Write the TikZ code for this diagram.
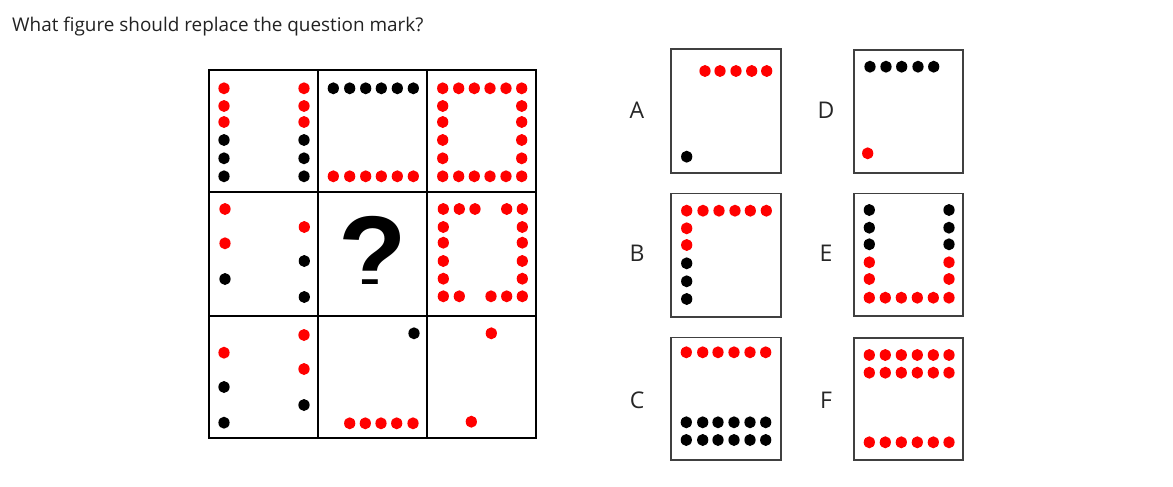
\documentclass[tikz,border=0pt]{standalone}
\usepackage{fontspec}
\setmainfont{Open Sans}
\newfontfamily\qfont{Liberation Sans}
\definecolor{dotred}{HTML}{FF0000}
\definecolor{txt}{HTML}{222222}
\begin{document}
\begin{tikzpicture}[x=1pt,y=-1pt,
  rd/.style={fill=dotred,x radius=5.6pt,y radius=6pt},
  bk/.style={fill=black,x radius=5.6pt,y radius=6pt},
  gridline/.style={line width=2pt,draw=black},
  optbox/.style={line width=1.6pt,draw=black!75},
  optlabel/.style={font=\fontsize{23}{23}\selectfont,text=black!85,inner sep=0pt}]
\useasboundingbox (0,0) rectangle (1173,487);
% title
\node[anchor=base west,inner sep=0pt,text=txt,font=\fontsize{18.9}{20}\selectfont] (title) at (12,31.7) {What figure should replace the question mark?};
% grid
\draw[gridline] (209,70) rectangle (536,438);
\draw[gridline] (318,70) -- (318,438) (427,70) -- (427,438)
  (209,192) -- (536,192) (209,316) -- (536,316);
% cell 1,1
\foreach \y/\c in {88.3/rd,106/rd,122/rd,140/bk,158.3/bk,176.3/bk}{
  \fill[\c] (224,\y) circle; \fill[\c] (304,\y) circle;}
% cell 1,2
\foreach \x in {333.3,349.7,365.7,381.3,397.3,413.3}{
  \fill[bk] (\x,88.3) circle; \fill[rd] (\x,176.3) circle;}
% cell 1,3
\foreach \x in {442.7,458.7,474.3,490,506,521.7}{
  \fill[rd] (\x,88.3) circle; \fill[rd] (\x,176.3) circle;}
\foreach \y in {106,122,140,158.3}{
  \fill[rd] (442.7,\y) circle; \fill[rd] (521.7,\y) circle;}
% cell 2,1
\fill[rd] (225,209) circle;
\fill[rd] (225,243.3) circle;
\fill[bk] (225,279) circle;
\fill[rd] (304.3,227) circle;
\fill[bk] (304.3,261) circle;
\fill[bk] (304.3,297) circle;
% cell 2,2 question mark
\begin{scope}
\clip (320,195) rectangle (425,283.5);
\node[anchor=base,inner sep=0pt,font=\qfont\bfseries\fontsize{112}{112}\selectfont] (qm) at (373,294.5) {?};
\end{scope}
% cell 2,3
\foreach \x in {443.3,459.3,475,506.7,522.3}{\fill[rd] (\x,209) circle;}
\foreach \x in {443.3,459.3,491,506.7,522.3}{\fill[rd] (\x,296.3) circle;}
\foreach \y in {227,242.7,261,278.7}{
  \fill[rd] (443.3,\y) circle; \fill[rd] (522.3,\y) circle;}
% cell 3,1
\fill[rd] (224,352.7) circle;
\fill[bk] (224,387) circle;
\fill[bk] (224,422.7) circle;
\fill[rd] (304,335) circle;
\fill[rd] (304,369) circle;
\fill[bk] (304,405) circle;
% cell 3,2
\fill[bk] (414,333.3) circle;
\foreach \x in {349.7,365.3,381,396.7,413}{\fill[rd] (\x,423.3) circle;}
% cell 3,3
\fill[rd] (491.3,333.3) circle;
\fill[rd] (471.3,421.7) circle;
% option labels
\node[optlabel] (lA) at (637,110) {A};
\node[optlabel] (lB) at (637,253.3) {B};
\node[optlabel] (lC) at (637,400) {C};
\node[optlabel] (lD) at (826,110) {D};
\node[optlabel] (lE) at (826,253.3) {E};
\node[optlabel] (lF) at (826,400) {F};
% option boxes
\draw[optbox] (671,49.3) rectangle (780.7,172.7);
\draw[optbox] (671,193.3) rectangle (780.7,316.7);
\draw[optbox] (671,337.3) rectangle (780.7,460);
\draw[optbox] (854,50) rectangle (962.7,172.7);
\draw[optbox] (854,193.3) rectangle (962.7,315.7);
\draw[optbox] (854,337.7) rectangle (962.7,460);
% A
\foreach \x in {705,720,736,751.7,766.7}{\fill[rd] (\x,71) circle;}
\fill[bk] (686.7,156.7) circle;
% B
\foreach \x in {686.7,703,719,735,750.3,766.3}{\fill[rd] (\x,210.7) circle;}
\fill[rd] (686.7,228.3) circle;
\fill[rd] (686.7,245) circle;
\foreach \y in {263.3,281.3,299}{\fill[bk] (686.7,\y) circle;}
% C
\foreach \x in {686.3,702.7,718,734,750,765.7}{
  \fill[rd] (\x,352.3) circle;
  \fill[bk] (\x,422.3) circle;
  \fill[bk] (\x,440) circle;}
% D
\foreach \x in {870,886,901.7,918,933.7}{\fill[bk] (\x,66.7) circle;}
\fill[rd] (867.7,153.3) circle;
% E
\foreach \y in {210,227.7,244.3}{
  \fill[bk] (869.3,\y) circle; \fill[bk] (949,\y) circle;}
\foreach \y in {262.3,279}{
  \fill[rd] (869.3,\y) circle; \fill[rd] (949,\y) circle;}
\foreach \x in {869.3,885.3,901.3,917.3,933.3,949}{\fill[rd] (\x,297.7) circle;}
% F
\foreach \x in {869.3,885.3,901.3,917.3,933.3,949}{
  \fill[rd] (\x,355) circle;
  \fill[rd] (\x,372.7) circle;
  \fill[rd] (\x,442.3) circle;}
\end{tikzpicture}
\end{document}
